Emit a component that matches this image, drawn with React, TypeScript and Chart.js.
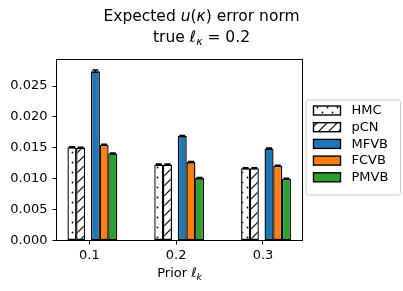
import { useEffect, useRef } from "react";
import { Chart, registerables } from "chart.js";

Chart.register(...registerables);

// ---- data ----
const priors = [0.1, 0.2, 0.3];
const methods = ["HMC", "pCN", "MFVB", "FCVB", "PMVB"];
const hmcVals = [0.0151, 0.0123, 0.0117];
const pcnVals = [0.015, 0.0123, 0.0117];
const mfvbVals = [0.0274, 0.0169, 0.0149];
const fcvbVals = [0.0155, 0.0127, 0.0121];
const pmvbVals = [0.0141, 0.0101, 0.01];
const hmcErr = [0.0001, 0.0001, 0.0001];
const pcnErr = [0.0001, 0.0001, 0.0001];
const mfvbErr = [0.0002, 0.0001, 0.0001];
const fcvbErr = [0.0001, 0.0001, 0.0001];
const pmvbErr = [0.0001, 0.0001, 0.0001];
const yTickStep = 0.005;

// ---- layout / style ----
const barOffsets = [-0.02, -0.01, 0.007, 0.017, 0.027];
const X_MIN = 0.0622;
const X_MAX = 0.3455;
const Y_MAX = 0.0293;
const FONT = '"DejaVu Sans", sans-serif';

function makeDots(): CanvasPattern | string {
  const c = document.createElement("canvas");
  c.width = 10;
  c.height = 10;
  const g = c.getContext("2d")!;
  g.fillStyle = "#fff";
  g.fillRect(0, 0, 10, 10);
  g.fillStyle = "#000";
  for (const [x, y] of [
    [2.5, 2.5],
    [7.5, 7.5],
  ]) {
    g.beginPath();
    g.arc(x, y, 0.9, 0, Math.PI * 2);
    g.fill();
  }
  return g.createPattern(c, "repeat") || "#fff";
}

function makeHatch(): CanvasPattern | string {
  const s = 10;
  const c = document.createElement("canvas");
  c.width = s;
  c.height = s;
  const g = c.getContext("2d")!;
  g.fillStyle = "#fff";
  g.fillRect(0, 0, s, s);
  g.strokeStyle = "#000";
  g.lineWidth = 1.2;
  g.beginPath();
  g.moveTo(-1, s + 1);
  g.lineTo(s + 1, -1);
  g.moveTo(-1, 1);
  g.lineTo(1, -1);
  g.moveTo(s - 1, s + 1);
  g.lineTo(s + 1, s - 1);
  g.stroke();
  return g.createPattern(c, "repeat") || "#fff";
}

type Run = { t: string; it?: boolean; sub?: boolean };

function drawRich(ctx: CanvasRenderingContext2D, runs: Run[], cx: number, baseline: number, size: number) {
  const fontFor = (r: Run) => `${r.it ? "italic " : ""}${r.sub ? size * 0.7 : size}px ${FONT}`;
  let total = 0;
  for (const r of runs) {
    ctx.font = fontFor(r);
    total += ctx.measureText(r.t).width;
  }
  let x = cx - total / 2;
  ctx.textAlign = "left";
  ctx.textBaseline = "alphabetic";
  ctx.fillStyle = "#000";
  for (const r of runs) {
    ctx.font = fontFor(r);
    ctx.fillText(r.t, x, baseline + (r.sub ? size * 0.22 : 0));
    x += ctx.measureText(r.t).width;
  }
}

export default function App() {
  const ref = useRef<HTMLCanvasElement>(null);

  useEffect(() => {
    const canvas = ref.current;
    if (!canvas) return;
    const series = [hmcVals, pcnVals, mfvbVals, fcvbVals, pmvbVals];
    const errs = [hmcErr, pcnErr, mfvbErr, fcvbErr, pmvbErr];
    const fills = [makeDots(), makeHatch(), "#1f77b4", "#ff7f0e", "#2ca02c"];

    const datasets = methods.map((m, i) => ({
      label: m,
      data: priors.map((p, j) => ({ x: p + barOffsets[i], y: series[i][j] })),
      backgroundColor: fills[i] as any,
      borderColor: "#000",
      borderWidth: 1.4,
      borderSkipped: false as any,
      grouped: false,
      barPercentage: 1.04,
      categoryPercentage: 1,
    }));

    const decorations = {
      id: "decorations",
      afterDraw(chart: any) {
        const ctx: CanvasRenderingContext2D = chart.ctx;
        const area = chart.chartArea;
        const ys = chart.scales.y;
        ctx.save();
        // error bars
        ctx.strokeStyle = "#000";
        ctx.lineWidth = 1.3;
        chart.data.datasets.forEach((ds: any, i: number) => {
          const meta = chart.getDatasetMeta(i);
          meta.data.forEach((el: any, j: number) => {
            const v = series[i][j];
            const e = errs[i][j];
            const y1 = ys.getPixelForValue(v - e);
            const y2 = ys.getPixelForValue(v + e);
            ctx.beginPath();
            ctx.moveTo(el.x, y1);
            ctx.lineTo(el.x, y2);
            ctx.moveTo(el.x - 3, y1);
            ctx.lineTo(el.x + 3, y1);
            ctx.moveTo(el.x - 3, y2);
            ctx.lineTo(el.x + 3, y2);
            ctx.stroke();
          });
        });
        // spines
        ctx.strokeStyle = "#000";
        ctx.lineWidth = 1;
        ctx.strokeRect(area.left, area.top, area.right - area.left, area.bottom - area.top);

        // title
        drawRich(
          ctx,
          [{ t: "Expected " }, { t: "u", it: true }, { t: "(" }, { t: "κ", it: true }, { t: ")" }, { t: " error norm" }],
          201.5,
          20.5,
          15.5
        );
        drawRich(
          ctx,
          [{ t: "true " }, { t: "ℓ", it: true }, { t: "κ", it: true, sub: true }, { t: " = 0.2" }],
          201.5,
          41.5,
          15.5
        );
        // x label
        drawRich(
          ctx,
          [{ t: "Prior " }, { t: "ℓ", it: true }, { t: "k", it: true, sub: true }],
          (area.left + area.right) / 2,
          277,
          13
        );

        // legend
        const lx = 306;
        const ly = 100;
        const lw = 94.5;
        const lh = 95;
        ctx.beginPath();
        if ((ctx as any).roundRect) (ctx as any).roundRect(lx, ly, lw, lh, 2.5);
        else ctx.rect(lx, ly, lw, lh);
        ctx.fillStyle = "rgba(255,255,255,0.8)";
        ctx.fill();
        ctx.strokeStyle = "#cccccc";
        ctx.lineWidth = 1;
        ctx.stroke();
        chart.data.datasets.forEach((ds: any, i: number) => {
          const cy = 110.5 + i * 16.7;
          ctx.fillStyle = ds.backgroundColor;
          ctx.fillRect(313.5, cy - 4.5, 27, 9);
          ctx.strokeStyle = "#000";
          ctx.lineWidth = 1.4;
          ctx.strokeRect(313.5, cy - 4.5, 27, 9);
          ctx.fillStyle = "#000";
          ctx.font = `13px ${FONT}`;
          ctx.textAlign = "left";
          ctx.textBaseline = "middle";
          ctx.fillText(ds.label, 351.5, cy + 0.5);
        });
        ctx.restore();
      },
    };

    const chart = new Chart(canvas, {
      type: "bar",
      data: { datasets: datasets as any },
      options: {
        animation: false,
        responsive: false,
        layout: { padding: { top: 59.5, right: 100.5, bottom: 0, left: 0 } },
        plugins: {
          legend: { display: false },
          title: { display: false },
          tooltip: { enabled: false },
        },
        scales: {
          x: {
            type: "linear",
            min: X_MIN,
            max: X_MAX,
            offset: false,
            grid: { display: true, offset: false, drawOnChartArea: false, drawTicks: true, tickLength: 4, color: "#000", lineWidth: 1 },
            border: { display: false },
            ticks: {
              color: "#000",
              font: { family: FONT, size: 13 },
              padding: 3,
              maxRotation: 0,
              callback: (v: any) => Number(v).toFixed(1),
            },
            afterBuildTicks: (scale: any) => {
              scale.ticks = priors.map((p) => ({ value: p }));
            },
            afterFit: (scale: any) => {
              scale.height = 50.5;
            },
          },
          y: {
            type: "linear",
            min: 0,
            max: Y_MAX,
            grid: { display: true, drawOnChartArea: false, drawTicks: true, tickLength: 4, color: "#000", lineWidth: 1 },
            border: { display: false },
            ticks: {
              color: "#000",
              font: { family: FONT, size: 13 },
              padding: 5,
              stepSize: yTickStep,
              callback: (v: any) => Number(v).toFixed(3),
            },
            afterBuildTicks: (scale: any) => {
              scale.ticks = scale.ticks.filter(
                (t: any) => Math.abs(t.value / yTickStep - Math.round(t.value / yTickStep)) < 1e-6
              );
            },
            afterFit: (scale: any) => {
              scale.width = 56.5;
            },
          },
        },
      },
      plugins: [decorations],
    });
    return () => chart.destroy();
  }, []);

  return (
    <div style={{ position: "fixed", left: 0, top: 0, width: 403, height: 291, background: "#fff" }}>
      <canvas ref={ref} width={403} height={291} style={{ display: "block", width: 403, height: 291 }} />
    </div>
  );
}
